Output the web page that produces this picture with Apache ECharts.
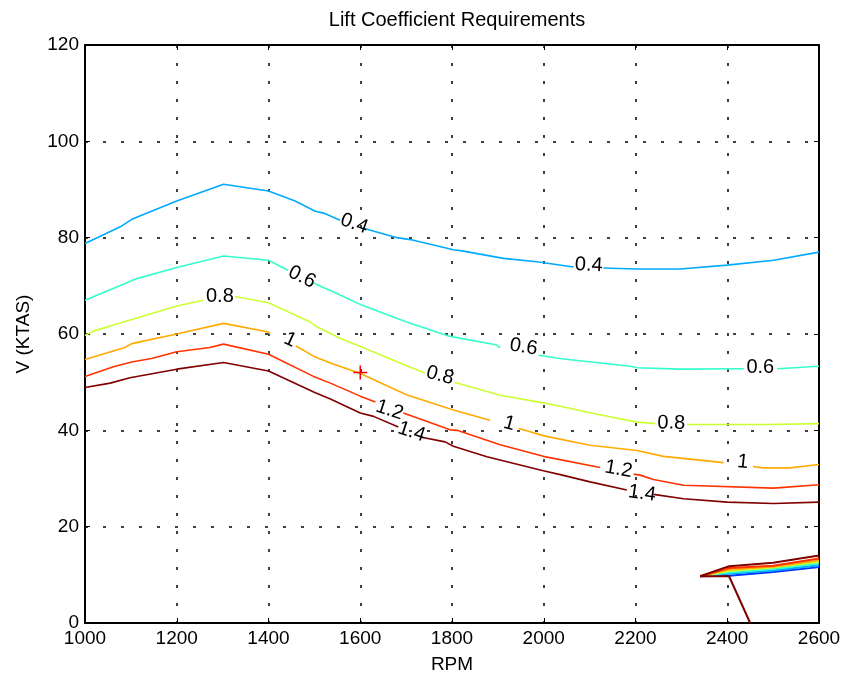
<!DOCTYPE html>
<html>
<head>
<meta charset="utf-8">
<script src="https://cdn.jsdelivr.net/npm/echarts@6/dist/echarts.min.js"></script>
<style>
  html, body { margin: 0; padding: 0; background: #fff; }
  #chart { width: 845px; height: 684px; }
</style>
</head>
<body>
<div id="chart"></div>
<script>
// Axis ticks
const rpmTicks = [1000, 1200, 1400, 1600, 1800, 2000, 2200, 2400, 2600];
const vTicks = [0, 20, 40, 60, 80, 100, 120];

// Contour lines of required lift coefficient, [RPM, V (KTAS)], split where labels sit
const cl04 = [
  [[1000,78.8],[1076,82.2],[1102,83.8],[1200,87.6],[1302,91.1],[1400,89.7],[1458,87.6],[1502,85.5],[1520,85.1],[1556,83.6]],
  [[1605,82.0],[1680,80.0],[1709,79.6],[1803,77.5],[1825,77.2],[1912,75.7],[1985,75.0],[2065,73.9]],
  [[2130,73.7],[2203,73.5],[2298,73.5],[2400,74.3],[2501,75.3],[2600,77.0]]
];
const cl06 = [
  [[1000,67.0],[1113,71.5],[1200,73.8],[1302,76.2],[1400,75.3],[1443,73.2]],
  [[1498,70.6],[1556,68.1],[1603,66.0],[1701,62.5],[1796,59.5],[1898,57.7],[1905,57.1]],
  [[1989,55.6],[2043,54.8],[2189,53.3],[2203,53.0],[2298,52.7],[2436,52.8]],
  [[2509,52.8],[2600,53.3]]
];
const cl08 = [
  [[1000,59.7],[1018,60.6],[1084,62.5],[1200,65.8],[1258,67.0]],
  [[1327,67.8],[1400,66.5],[1491,62.5],[1505,61.5],[1556,59.1],[1603,57.3],[1701,53.4],[1741,51.9]],
  [[1805,50.0],[1905,47.3],[1999,45.7],[2036,45.0],[2109,43.5],[2203,41.7],[2243,41.4]],
  [[2312,41.2],[2400,41.2],[2487,41.2],[2600,41.4]]
];
const cl10 = [
  [[1000,54.7],[1087,57.2],[1102,58.0],[1200,60.0],[1302,62.2],[1400,60.4],[1403,60.0]],
  [[1460,57.5],[1498,55.4],[1535,54.0],[1600,51.8],[1701,47.4],[1803,44.2],[1883,42.1]],
  [[1945,40.4],[1963,39.9],[2003,38.8],[2101,36.9],[2203,35.8],[2261,34.6],[2392,33.3]],
  [[2456,32.5],[2479,32.2],[2537,32.2],[2600,32.9]]
];
const cl12 = [
  [[1000,51.2],[1062,53.2],[1102,54.2],[1145,54.9],[1200,56.3],[1272,57.2],[1302,57.9],[1400,55.8],[1498,51.2],[1535,49.8],[1600,47.1],[1633,45.9]],
  [[1694,43.6],[1796,40.1],[1811,40.0],[1905,37.0],[1999,34.6],[2123,32.3]],
  [[2196,30.9],[2210,30.7],[2239,29.8],[2305,28.6],[2501,28.0],[2600,28.7]]
];
const cl14 = [
  [[1000,48.9],[1055,49.8],[1098,50.9],[1200,52.7],[1302,54.1],[1400,52.3],[1502,47.8],[1535,46.5],[1600,43.6],[1629,42.9],[1683,40.7]],
  [[1731,38.6],[1785,37.6],[1803,36.7],[1876,34.5],[1999,31.6],[2036,30.8],[2101,29.3],[2181,27.6]],
  [[2239,26.7],[2305,25.8],[2400,25.1],[2501,24.8],[2600,25.1]]
];

// Degenerate contour bundle near the lower right corner
const fanRPM = [2341, 2404, 2500, 2600];
const fan02 = [9.7, 9.8, 10.6, 11.6];
const fan04 = [9.7, 10.2, 10.9, 12.0];
const fan06 = [9.7, 10.5, 11.2, 12.4];
const fan08 = [9.7, 10.8, 11.5, 12.7];
const fan10 = [9.7, 11.1, 11.7, 13.0];
const fan12 = [9.7, 11.4, 11.9, 13.4];
const fan14 = [9.7, 11.8, 12.5, 14.0];
const tail14 = [[2341, 9.7], [2404, 9.7], [2450, 0]];

// Inline contour labels
const labelText  = ['0.4', '0.4', '0.6', '0.6', '0.6', '0.8', '0.8', '0.8', '1', '1', '1', '1.2', '1.2', '1.4', '1.4'];
const labelRPM   = [1587, 2098, 1473, 1956, 2472, 1294, 1774, 2278, 1447, 1925, 2434, 1664, 2163, 1712, 2214];
const labelV     = [82.9, 74.3, 71.8, 57.3, 53.0, 67.7, 51.4, 41.5, 58.8, 41.4, 33.4, 44.2, 31.9, 39.7, 26.9];
const labelAngle = [-20, -3, -27, -9, 0, 0, -15, -1, -25, -15, -6, -18, -10, -18, -8];

// Design point
const designPoint = [1600, 52];

const FONT = 'Liberation Sans, Arial, Helvetica, sans-serif';

const contourSets = [
  { segs: cl04, color: '#00aaff' },
  { segs: cl06, color: '#33ffcc' },
  { segs: cl08, color: '#ccff33' },
  { segs: cl10, color: '#ffaa00' },
  { segs: cl12, color: '#ff3300' },
  { segs: cl14, color: '#800000' }
];
const fanSets = [
  { v: fan02, color: '#0033ff' },
  { v: fan04, color: '#00aaff' },
  { v: fan06, color: '#33ffcc' },
  { v: fan08, color: '#ccff33' },
  { v: fan10, color: '#ffaa00' },
  { v: fan12, color: '#ff3300' },
  { v: fan14, color: '#800000' }
];

const series = [];
function addLine(data, color, width) {
  series.push({
    type: 'line', data: data, showSymbol: false, silent: true, animation: false,
    lineStyle: { color: color, width: width || 1.6 }, z: 3
  });
}
contourSets.forEach(s => s.segs.forEach(seg => addLine(seg, s.color)));
fanSets.forEach(s => addLine(fanRPM.map((r, i) => [r, s.v[i]]), s.color, 2));
addLine(tail14, '#800000', 2);

series.push({
  type: 'scatter', silent: true, animation: false, symbolSize: 0, z: 5,
  itemStyle: { opacity: 1 },
  data: labelText.map((t, i) => ({
    value: [labelRPM[i], labelV[i]],
    name: t,
    label: { rotate: labelAngle[i] }
  })),
  label: {
    show: true, position: 'inside', formatter: p => p.name,
    color: '#000', fontFamily: FONT, fontSize: 20, opacity: 1,
    textBorderWidth: 0, textShadowBlur: 0
  }
});

series.push({
  type: 'scatter', silent: true, animation: false, z: 6,
  data: [designPoint],
  symbol: 'path://M5,0L5,10M0,5L10,5', symbolSize: 14,
  itemStyle: { color: 'none', borderColor: '#ff0000', borderWidth: 1.5, opacity: 1 }
});

const axisLabelStyle = { color: '#000', fontFamily: FONT, fontSize: 19 };
const gridDash = { color: '#000', width: 1.5, type: [3, 15] };

const option = {
  backgroundColor: '#fff',
  animation: false,
  title: {
    text: 'Lift Coefficient Requirements',
    left: 452, top: 5, textAlign: 'center',
    textStyle: { color: '#000', fontFamily: FONT, fontSize: 20, fontWeight: 'normal' }
  },
  grid: { left: 85, top: 45, right: 26, bottom: 61 },
  xAxis: [
    {
      type: 'value', min: rpmTicks[0], max: rpmTicks[rpmTicks.length - 1], interval: 200, position: 'bottom',
      name: 'RPM', nameLocation: 'middle', nameGap: 32,
      nameTextStyle: { color: '#000', fontFamily: FONT, fontSize: 19 },
      axisLine: { show: true, onZero: false, lineStyle: { color: '#000', width: 2 } },
      axisTick: { show: true, inside: true, length: 5, lineStyle: { color: '#000', width: 1 } },
      axisLabel: Object.assign({ margin: 6, formatter: v => String(v) }, axisLabelStyle),
      splitLine: { show: true, lineStyle: gridDash }
    },
    {
      type: 'value', min: rpmTicks[0], max: rpmTicks[rpmTicks.length - 1], interval: 200, position: 'top',
      axisLine: { show: true, onZero: false, lineStyle: { color: '#000', width: 2 } },
      axisTick: { show: true, inside: true, length: 5, lineStyle: { color: '#000', width: 1 } },
      axisLabel: { show: false }, splitLine: { show: false }
    }
  ],
  yAxis: [
    {
      type: 'value', min: vTicks[0], max: vTicks[vTicks.length - 1], interval: 20, position: 'left',
      name: 'V (KTAS)', nameLocation: 'middle', nameGap: 52,
      nameTextStyle: { color: '#000', fontFamily: FONT, fontSize: 19 },
      axisLine: { show: true, onZero: false, lineStyle: { color: '#000', width: 2 } },
      axisTick: { show: true, inside: true, length: 5, lineStyle: { color: '#000', width: 1 } },
      axisLabel: Object.assign({ margin: 6, formatter: v => String(v) }, axisLabelStyle),
      splitLine: { show: true, lineStyle: gridDash }
    },
    {
      type: 'value', min: vTicks[0], max: vTicks[vTicks.length - 1], interval: 20, position: 'right',
      axisLine: { show: true, onZero: false, lineStyle: { color: '#000', width: 2 } },
      axisTick: { show: true, inside: true, length: 5, lineStyle: { color: '#000', width: 1 } },
      axisLabel: { show: false }, splitLine: { show: false }
    }
  ],
  series: series
};

const chart = echarts.init(document.getElementById('chart'), null, { renderer: 'canvas' });
chart.setOption(option);
</script>
</body>
</html>
